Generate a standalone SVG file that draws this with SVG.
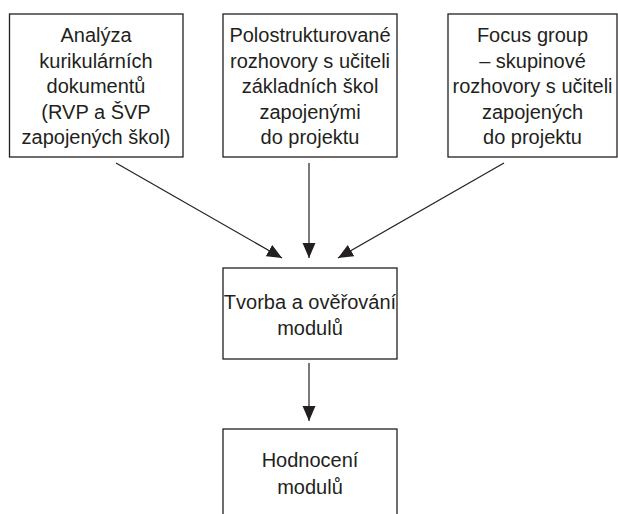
<svg xmlns="http://www.w3.org/2000/svg" width="618" height="514" viewBox="0 0 618 514">
<style>
.box{fill:#fff;stroke:#231f20;stroke-width:1.3}
.t{font-family:"Liberation Sans",Arial,sans-serif;font-size:20px;fill:#231f20;text-anchor:middle}
.c{stroke:#231f20;stroke-width:1.2;fill:none}
</style>
<defs>
<marker id="ah" markerUnits="userSpaceOnUse" markerWidth="16" markerHeight="14" refX="15" refY="6.5" orient="auto">
<path d="M0,0 L15,6.5 L0,13 Z" fill="#231f20"/>
</marker>
</defs>
<rect width="618" height="514" fill="#fff"/>
<g id="n1">
<rect class="box" x="9.5" y="14" width="173.5" height="143"/>
<text class="t"><tspan x="96" y="42">Analýza</tspan><tspan x="96" y="67.5">kurikulárních</tspan><tspan x="96" y="93">dokumentů</tspan><tspan x="96" y="118.5">(RVP a ŠVP</tspan><tspan x="96" y="144">zapojených škol)</tspan></text>
</g>
<g id="n2">
<rect class="box" x="223" y="14" width="174" height="143"/>
<text class="t"><tspan x="310" y="42">Polostrukturované</tspan><tspan x="310" y="67.5">rozhovory s učiteli</tspan><tspan x="310" y="93">základních škol</tspan><tspan x="310" y="118.5">zapojenými</tspan><tspan x="310" y="144">do projektu</tspan></text>
</g>
<g id="n3">
<rect class="box" x="448" y="14" width="169" height="143"/>
<text class="t"><tspan x="532.5" y="42">Focus group</tspan><tspan x="532.5" y="67.5">– skupinové</tspan><tspan x="532.5" y="93">rozhovory s učiteli</tspan><tspan x="532.5" y="118.5">zapojených</tspan><tspan x="532.5" y="144">do projektu</tspan></text>
</g>
<g id="n4">
<rect class="box" x="223" y="268" width="174" height="91"/>
<text class="t"><tspan x="310" y="309">Tvorba a ověřování</tspan><tspan x="310" y="335">modulů</tspan></text>
</g>
<g id="n5">
<rect class="box" x="223" y="429" width="174" height="100"/>
<text class="t"><tspan x="310" y="467">Hodnocení</tspan><tspan x="310" y="494">modulů</tspan></text>
</g>
<g id="connectors">
<line class="c" x1="116" y1="163" x2="282" y2="258" marker-end="url(#ah)"/>
<line class="c" x1="309" y1="163" x2="309" y2="258" marker-end="url(#ah)"/>
<line class="c" x1="504" y1="163" x2="338" y2="258" marker-end="url(#ah)"/>
<line class="c" x1="309" y1="363" x2="309" y2="421" marker-end="url(#ah)"/>
</g>
</svg>
